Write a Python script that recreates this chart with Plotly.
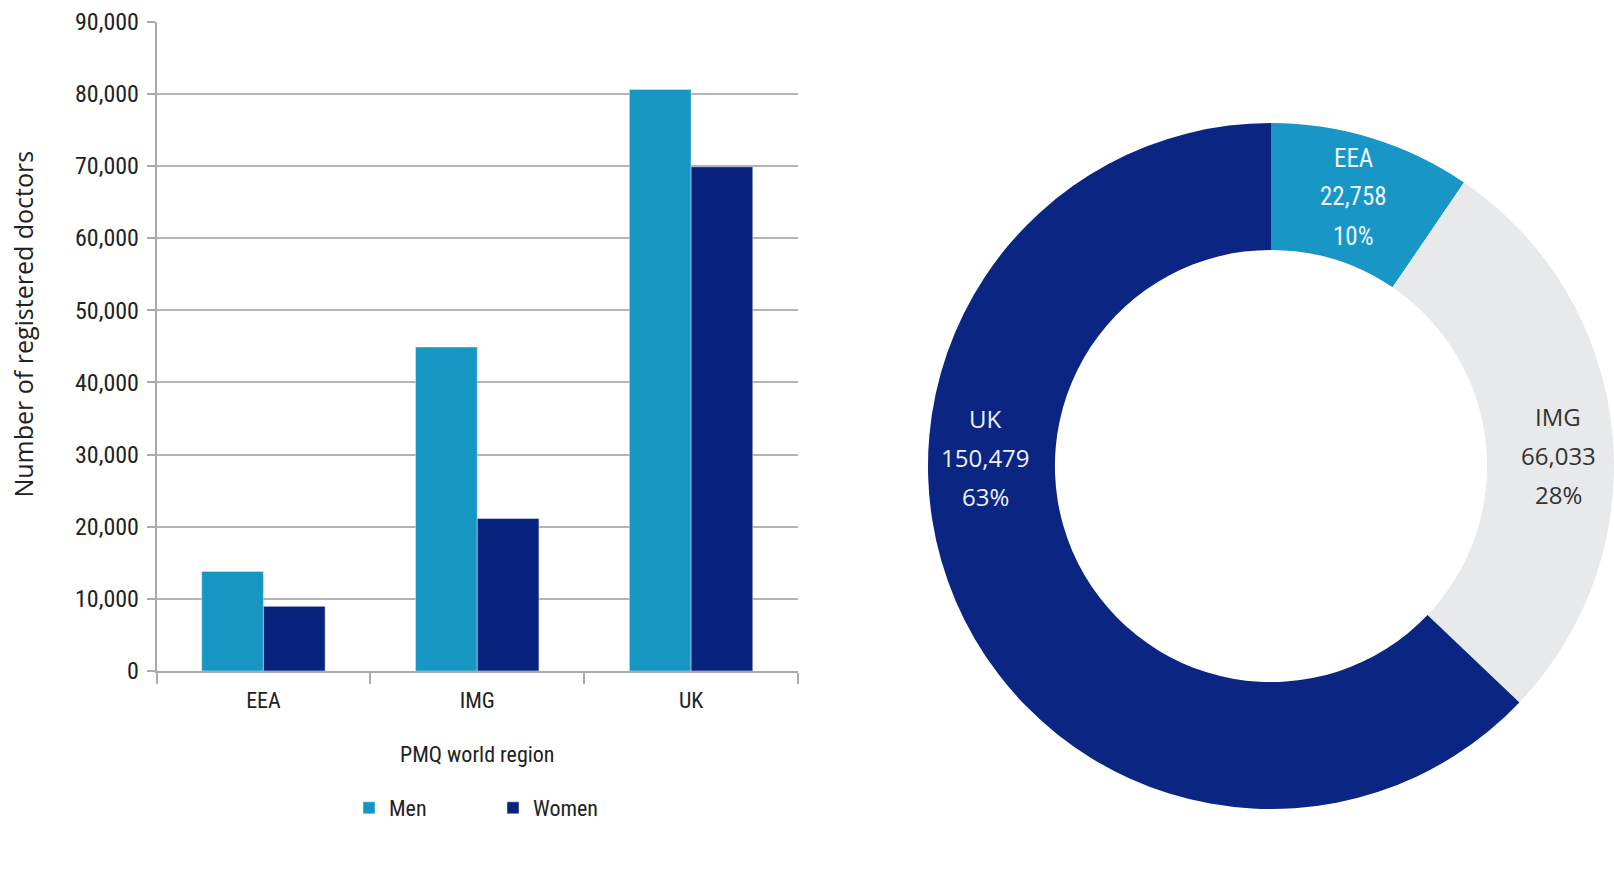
import plotly.graph_objects as go

# ---- data ----
regions = ["EEA", "IMG", "UK"]
men = [13800, 44900, 80600]
women = [8958, 21133, 69879]

pie_labels = ["EEA", "IMG", "UK"]
pie_values = [22758, 66033, 150479]

y_ticks = [0, 10000, 20000, 30000, 40000, 50000, 60000, 70000, 80000, 90000]

# ---- styles ----
MEN_COLOR = "#1596c3"
WOMEN_COLOR = "#07237d"
PIE_COLORS = ["#1896c6", "#e8e9eb", "#0a2682"]
PIE_TEXT_COLORS = ["#eef7fb", "#333333", "#eef1f8"]
GRID = "#b4b4b4"
TXT = "#222222"
REGULAR = "Open Sans, Noto Sans, sans-serif"
NARROW = "Roboto Condensed, DejaVu Sans Condensed, sans-serif"
W, H = 1614, 869

fig = go.Figure()
fig.add_trace(go.Bar(x=regions, y=men, name="Men", marker_color=MEN_COLOR))
fig.add_trace(go.Bar(x=regions, y=women, name="Women", marker_color=WOMEN_COLOR))

cx, cy, r = 1271, 466, 343
fig.add_trace(go.Pie(
    labels=pie_labels, values=pie_values, hole=0.63, sort=False,
    direction="clockwise", rotation=0,
    domain=dict(x=[(cx - r) / W, (cx + r) / W], y=[1 - (cy + r) / H, 1 - (cy - r) / H]),
    marker=dict(colors=PIE_COLORS, line=dict(width=0)),
    textinfo="none", showlegend=False,
))

# label anchor (centre of the middle text line) in pixels for each slice label
label_pos = {"EEA": (1353, 197), "IMG": (1558, 455), "UK": (985, 457)}
label_fonts = {"EEA": (NARROW, 25), "IMG": (REGULAR, 24), "UK": (REGULAR, 24)}
total = sum(pie_values)
annotations = []
for lab, val, col in zip(pie_labels, pie_values, PIE_TEXT_COLORS):
    px, py = label_pos[lab]
    fam, size = label_fonts[lab]
    lines = [lab, f"{val:,}", f"{round(val / total * 100)}%"]
    for k, line in enumerate(lines):
        annotations.append(dict(text=line, x=px / W, y=1 - (py + (k - 1) * 39) / H,
                                xref="paper", yref="paper", xanchor="center", yanchor="middle",
                                showarrow=False, font=dict(family=fam, size=size, color=col)))

annotations.append(dict(text="Number of registered doctors", textangle=-90,
                        x=22.6 / W, y=1 - 324 / H, xref="paper", yref="paper",
                        xanchor="center", yanchor="middle", showarrow=False,
                        font=dict(family=REGULAR, size=25, color=TXT)))

x0, x1 = 156.5, 798
yb, yt = 671, 21.6
fig.update_layout(
    width=W, height=H,
    margin=dict(l=0, r=0, t=0, b=0),
    paper_bgcolor="white", plot_bgcolor="white",
    barmode="group", bargap=0.423, bargroupgap=0,
    xaxis=dict(domain=[x0 / W, x1 / W], showline=True, linecolor="#aaaaaa", linewidth=1.5,
               ticks="outside", tickson="boundaries", ticklen=11, tickcolor="#aaaaaa", tickwidth=1.5,
               tickfont=dict(family=NARROW, size=22, color=TXT),
               ticklabelstandoff=9, automargin=False, showgrid=False,
               title=dict(text="PMQ world region",
                          font=dict(family=NARROW, size=22, color=TXT),
                          standoff=34)),
    yaxis=dict(domain=[1 - yb / H, 1 - yt / H], range=[0, 90000], tickvals=y_ticks,
               tickformat=",", showline=True, linecolor="#aaaaaa", linewidth=1.5,
               ticks="outside", ticklen=8, tickcolor="#aaaaaa", tickwidth=1.5,
               showgrid=True, gridcolor=GRID, gridwidth=1.5, zeroline=False,
               tickfont=dict(family=NARROW, size=24, color=TXT), ticklabelstandoff=3,
               automargin=False),
    legend=dict(orientation="h", x=349 / W, xanchor="left", y=1 - 808 / H, yanchor="middle",
                font=dict(family=NARROW, size=22, color=TXT),
                entrywidth=99, entrywidthmode="pixels", bgcolor="rgba(0,0,0,0)"),
    annotations=annotations,
)

fig.write_html("out.html")
